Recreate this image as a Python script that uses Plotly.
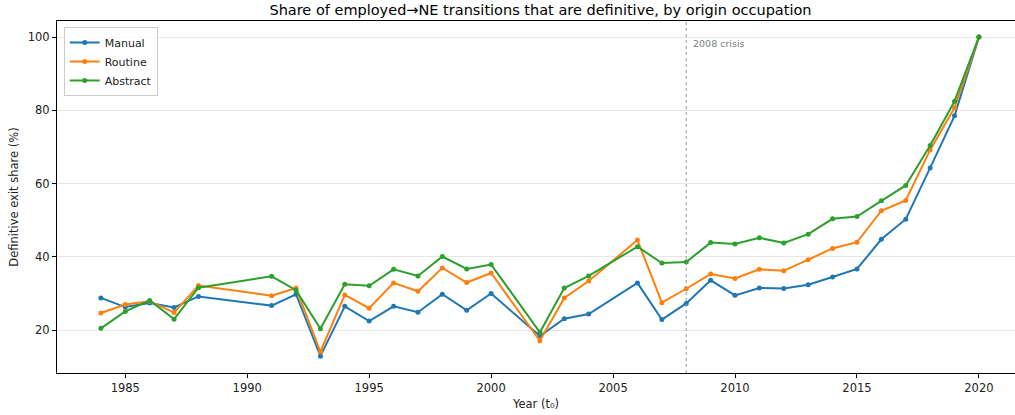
import plotly.graph_objects as go

years = [1984, 1985, 1986, 1987, 1988, 1991, 1992, 1993, 1994, 1995, 1996, 1997,
         1998, 1999, 2000, 2002, 2003, 2004, 2006, 2007, 2008, 2009, 2010, 2011,
         2012, 2013, 2014, 2015, 2016, 2017, 2018, 2019, 2020]

manual = [28.8, 26.3, 27.4, 26.2, 29.2, 26.7, 29.8, 12.9, 26.5, 22.5, 26.5, 24.9,
          29.8, 25.4, 30.0, 18.4, 23.1, 24.4, 32.9, 22.9, 27.3, 33.6, 29.5, 31.5,
          31.4, 32.4, 34.5, 36.7, 44.8, 50.3, 64.3, 78.5, 100.0]

routine = [24.7, 27.0, 27.9, 24.8, 32.2, 29.4, 31.5, 14.1, 29.6, 26.0, 32.9, 30.6,
           37.0, 33.0, 35.6, 17.1, 28.8, 33.4, 44.6, 27.5, 31.3, 35.3, 34.1, 36.6,
           36.2, 39.2, 42.3, 44.0, 52.6, 55.4, 69.2, 80.7, 100.0]

abstract = [20.5, 25.1, 28.1, 23.0, 31.6, 34.7, 30.9, 20.4, 32.5, 32.1, 36.6, 34.8,
            40.1, 36.7, 37.9, 19.4, 31.5, 34.8, 42.8, 38.3, 38.6, 43.9, 43.5, 45.2,
            43.8, 46.2, 50.4, 51.0, 55.3, 59.5, 70.4, 82.5, 100.0]

series = [("Manual", manual, "#1f77b4"),
          ("Routine", routine, "#ff7f0e"),
          ("Abstract", abstract, "#2ca02c")]

crisis_year = 2008

fig = go.Figure()
for name, vals, color in series:
    fig.add_trace(go.Scatter(
        x=years, y=vals, name=name, mode="lines+markers",
        line=dict(color=color, width=2),
        marker=dict(color=color, size=5),
    ))

fig.add_shape(type="line", x0=crisis_year, x1=crisis_year, xref="x",
              y0=0, y1=1, yref="paper",
              line=dict(color="#999999", width=1, dash="dot"))
fig.add_annotation(x=crisis_year, y=0.937, xref="x", yref="paper",
                   text="2008 crisis", showarrow=False, xanchor="left",
                   xshift=5, yanchor="middle",
                   font=dict(size=9.5, color="#808080"))

tick_font = dict(size=11.5, color="#222222")

# the axes box runs past the right edge of the page, so no right-hand spine is drawn
fig.update_xaxes(range=[1982.2, 2021.48],
                 tickvals=[1985, 1990, 1995, 2000, 2005, 2010, 2015, 2020],
                 showgrid=False, zeroline=False,
                 showline=True, linecolor="black", linewidth=1, mirror=True,
                 ticks="outside", ticklen=4, tickcolor="black", tickfont=tick_font,
                 title=dict(text="Year (t₀)", font=tick_font, standoff=6))
fig.update_yaxes(range=[8.3, 104.4], tickvals=[20, 40, 60, 80, 100],
                 showgrid=True, gridcolor="#e6e6e6", gridwidth=1, zeroline=False,
                 showline=True, linecolor="black", linewidth=1, mirror=False,
                 ticks="outside", ticklen=4, tickcolor="black", tickfont=tick_font,
                 title=dict(text="Definitive exit share (%)", font=tick_font, standoff=6))

fig.update_layout(
    width=1015, height=415,
    margin=dict(l=57, r=0, t=21, b=42),
    plot_bgcolor="white", paper_bgcolor="white",
    font=dict(family="DejaVu Sans", color="#222222"),
    title=dict(text="Share of employed→NE transitions that are definitive, by origin occupation",
               x=0.5325, xanchor="center", y=0.975, yanchor="middle",
               font=dict(size=14.5, color="black")),
    legend=dict(x=0.007, y=0.983, xanchor="left", yanchor="top",
                bgcolor="rgba(255,255,255,0.8)", bordercolor="#cccccc", borderwidth=1,
                font=dict(size=11), tracegroupgap=0, itemwidth=30),
    showlegend=True,
)

fig.write_html("out.html")
